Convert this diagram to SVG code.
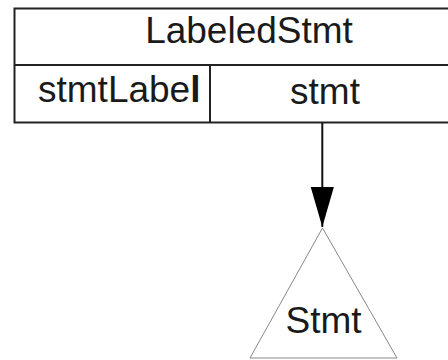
<svg xmlns="http://www.w3.org/2000/svg" width="448" height="360" viewBox="0 0 448 360">
  <style>
    .t { font-family: "Liberation Sans", Arial, sans-serif; font-size: 37px; fill: #1a1a1a; }
    .box { fill: none; stroke: #222; stroke-width: 2; }
    .tri { fill: none; stroke: #888; stroke-width: 1; }
    .edge { stroke: #111; stroke-width: 2; fill: none; }
  </style>
  <defs>
    <marker id="arrow" markerUnits="userSpaceOnUse" markerWidth="40" markerHeight="24" refX="38" refY="11" orient="auto" viewBox="0 0 38 22">
      <path d="M0,0 L38,11 L0,22 Z" fill="#000"/>
    </marker>
  </defs>
  <rect width="448" height="360" fill="#fff"/>
  <g id="LabeledStmt">
    <path class="box" d="M449,8.5 H14.5 V122.5 H449 M14.5,65 H449 M210,65 V122.5"/>
    <text class="t" x="249" y="43" text-anchor="middle">LabeledStmt</text>
    <text class="t" x="38" y="102">stmtLabe<tspan font-weight="bold">l</tspan></text>
    <text class="t" x="325" y="104" text-anchor="middle">stmt</text>
  </g>
  <g id="Stmt">
    <polygon class="tri" points="322.5,228 250,358 397,358"/>
    <text class="t" x="323.5" y="333" text-anchor="middle">Stmt</text>
  </g>
  <g id="connectors">
    <path class="edge" d="M322.3,123 V227" marker-end="url(#arrow)"/>
  </g>
</svg>
